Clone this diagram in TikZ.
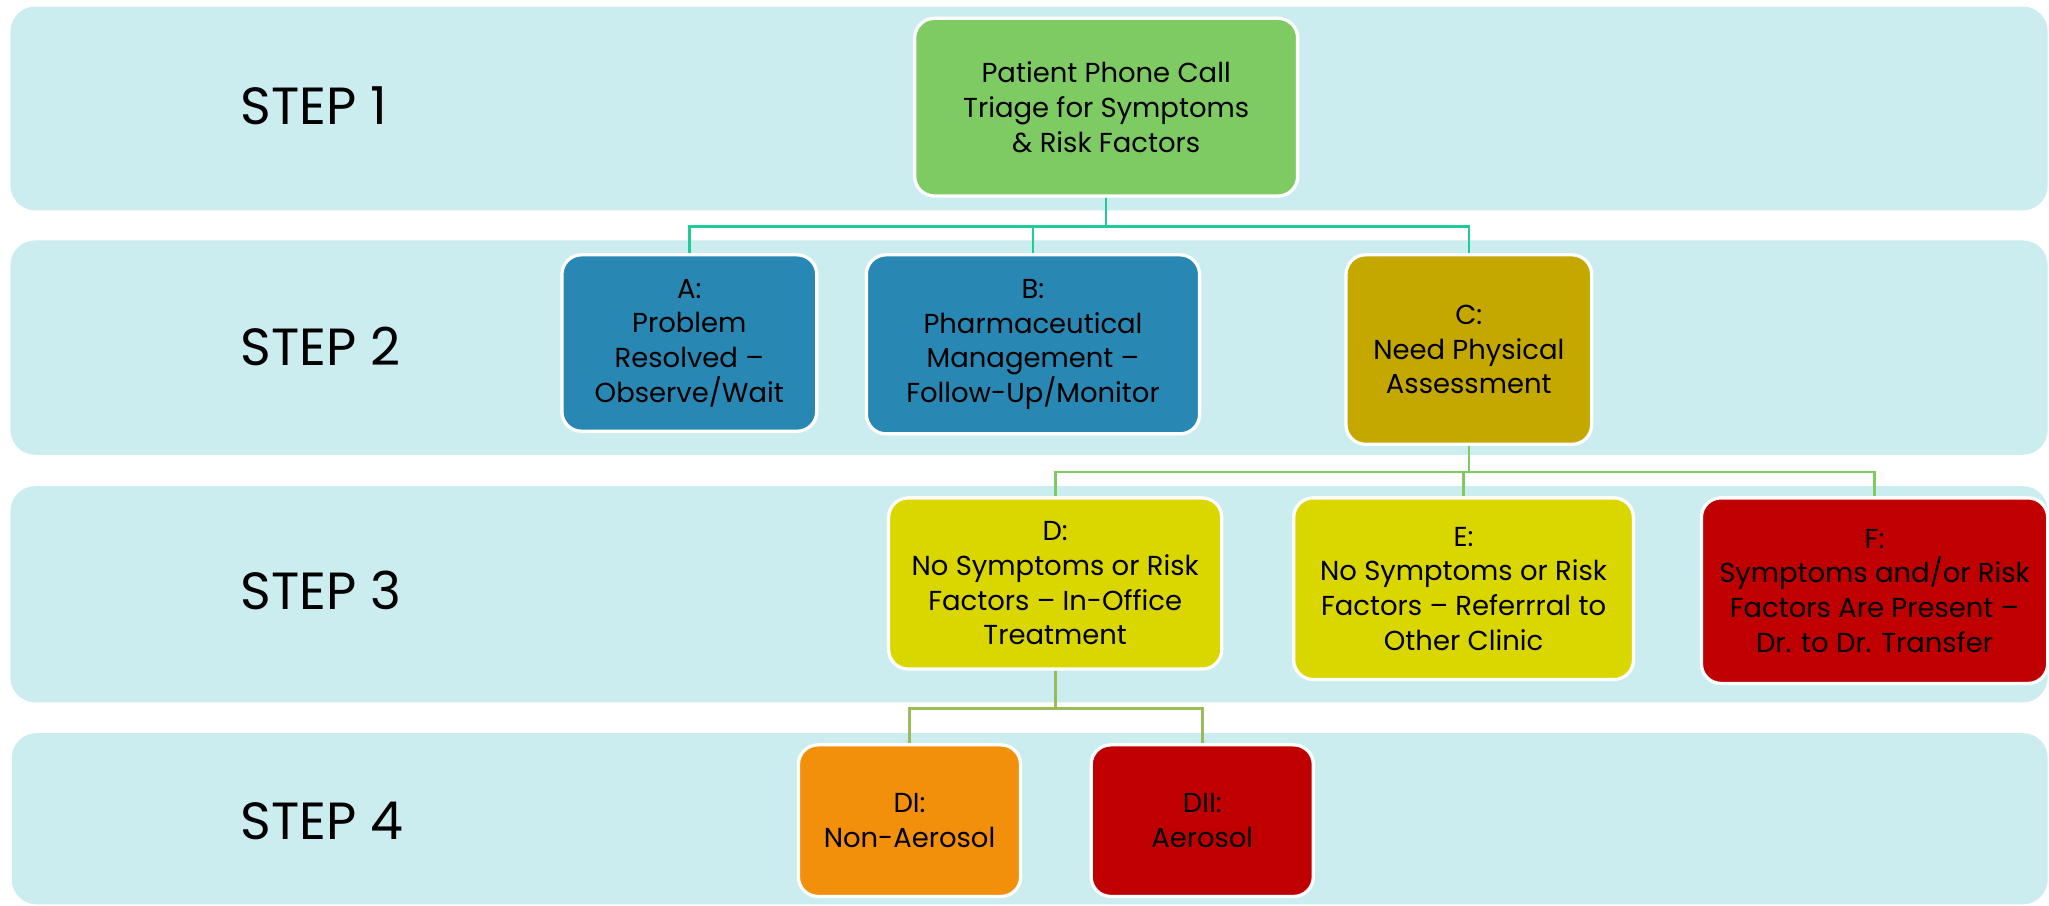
\documentclass[tikz,border=0pt]{standalone}
\usepackage{fontspec}
\setmainfont{Poppins}
\usetikzlibrary{positioning}
\definecolor{bandc}{RGB}{204,237,239}
\definecolor{rootc}{RGB}{126,203,100}
\definecolor{bluec}{RGB}{40,135,179}
\definecolor{olivec}{RGB}{196,168,0}
\definecolor{yelc}{RGB}{218,214,0}
\definecolor{redc}{RGB}{192,0,0}
\definecolor{orac}{RGB}{242,144,12}
\definecolor{conA}{RGB}{32,204,150}
\definecolor{conB}{RGB}{126,203,100}
\definecolor{conC}{RGB}{155,187,89}
\tikzset{
  band/.style={fill=bandc, draw=none, rounded corners=19pt},
  box/.style={draw=white, line width=2.5pt, rounded corners=15pt, align=center,
    inner sep=0pt, font=\fontsize{21}{26.5}\selectfont, text=black},
  steplabel/.style={anchor=west, inner sep=0pt, font=\fontsize{40}{44}\selectfont},
  conn/.style={line width=2pt},
}
\begin{document}
\begin{tikzpicture}[x=1pt, y=-1pt]
\useasboundingbox (0,0) rectangle (1568,693.3);
% bands
\path[band] (8,5) rectangle (1567,161);
\path[band] (8,184) rectangle (1567,348);
\path[band] (8,372) rectangle (1567,537.5);
\path[band] (9,561) rectangle (1567,692);
% step labels
\node[steplabel] (s1) at (184,81) {STEP 1};
\node[steplabel] (s2) at (184,265) {STEP 2};
\node[steplabel] (s3) at (184,452) {STEP 3};
\node[steplabel] (s4) at (184,628) {STEP 4};
% boxes
\node[box, fill=rootc, minimum width=293pt, minimum height=136pt] (root) at (846.5,82) {Patient Phone Call\\Triage for Symptoms\\\& Risk Factors};
\node[box, fill=bluec, minimum width=195pt, minimum height=135pt] (A) at (527.5,262.5) {A:\\Problem\\Resolved –\\Observe/Wait};
\node[box, fill=bluec, minimum width=255pt, minimum height=137pt] (B) at (790.5,263.5) {B:\\Pharmaceutical\\Management –\\Follow-Up/Monitor};
\node[box, fill=olivec, minimum width=188pt, minimum height=145pt] (C) at (1124,267.5) {C:\\Need Physical\\Assessment};
\node[box, fill=yelc, minimum width=255pt, minimum height=131pt] (D) at (807.5,446.5) {D:\\No Symptoms or Risk\\Factors – In-Office\\Treatment};
\node[box, fill=yelc, minimum width=260pt, minimum height=139pt] (E) at (1120,450.5) {E:\\No Symptoms or Risk\\Factors – Referrral to\\Other Clinic};
\node[box, fill=redc, minimum width=265pt, minimum height=142pt] (F) at (1434.5,452) {F:\\Symptoms and/or Risk\\Factors Are Present –\\Dr. to Dr. Transfer};
\node[box, fill=orac, minimum width=170pt, minimum height=116pt] (DI) at (696,628) {DI:\\Non-Aerosol};
\node[box, fill=redc, minimum width=170pt, minimum height=116pt] (DII) at (920,628) {DII:\\Aerosol};
% connectors
\draw[conn, conA] (root.south) -- ++(0,22) -| (A.north);
\draw[conn, conA] (root.south) -- ++(0,22) -| (B.north);
\draw[conn, conA] (root.south) -- ++(0,22) -| (C.north);
\draw[conn, conB] (C.south) -- ++(0,20) -| (D.north);
\draw[conn, conB] (C.south) -- ++(0,20) -| (E.north);
\draw[conn, conB] (C.south) -- ++(0,20) -| (F.north);
\draw[conn, conC] (D.south) -- ++(0,29) -| (DI.north);
\draw[conn, conC] (D.south) -- ++(0,29) -| (DII.north);
\end{tikzpicture}
\end{document}
